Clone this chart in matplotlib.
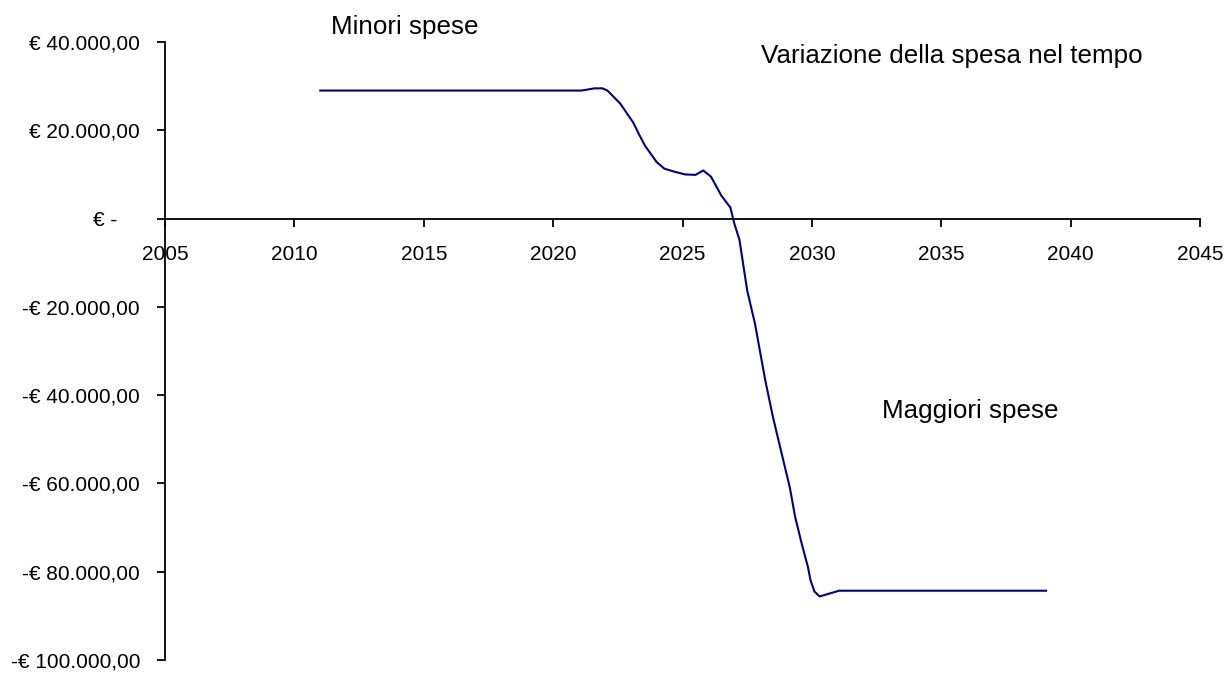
import matplotlib
matplotlib.use("Agg")
import matplotlib.pyplot as plt
from matplotlib.ticker import FixedLocator, FuncFormatter

plt.rcParams['font.family'] = ['Liberation Sans', 'DejaVu Sans']

# yearly spending difference (EUR)
years = [2011.0, 2021.1, 2021.4, 2021.6, 2021.9, 2022.1, 2022.6, 2023.1, 2023.3, 2023.55,
         2024.0, 2024.3, 2024.7, 2025.1, 2025.5, 2025.8, 2026.1, 2026.5, 2026.85,
         2027.0, 2027.2, 2027.5, 2027.8, 2028.2, 2028.5, 2029.15, 2029.35, 2029.6,
         2029.85, 2029.95, 2030.1, 2030.3, 2031.05, 2039.05]
values = [29000, 29000, 29300, 29500, 29500, 29000, 26000, 21700, 19300, 16500,
          12800, 11300, 10600, 10000, 9900, 10900, 9500, 5200, 2500,
          -1100, -4800, -16300, -23800, -36700, -45100, -61000, -67500, -73500,
          -79000, -82000, -84500, -85600, -84300, -84300]

x_ticks = [2005, 2010, 2015, 2020, 2025, 2030, 2035, 2040, 2045]
y_ticks = [40000, 20000, 0, -20000, -40000, -60000, -80000, -100000]


def euro(v, pos=None):
    if v == 0:
        return '€ -    '
    s = '{:,.2f}'.format(abs(v)).replace(',', 'X').replace('.', ',').replace('X', '.')
    return ('-€ ' if v < 0 else '€ ') + s


fig = plt.figure(figsize=(12.28, 6.73), dpi=100)
ax = fig.add_axes([0.1344, 0.0193, 0.8428, 0.9183])

ax.plot(years, values, color='#000080', linewidth=1.5)

ax.set_xlim(2005, 2045)
ax.set_ylim(-100000, 40000)

ax.spines['top'].set_visible(False)
ax.spines['right'].set_visible(False)
ax.spines['bottom'].set_position(('data', 0))
ax.spines['left'].set_linewidth(1.3)
ax.spines['bottom'].set_linewidth(1.3)

ax.xaxis.set_major_locator(FixedLocator(x_ticks))
ax.yaxis.set_major_locator(FixedLocator(y_ticks))
ax.yaxis.set_major_formatter(FuncFormatter(euro))
ax.tick_params(axis='x', direction='out', length=6, width=1.3, pad=13, labelsize=15)
ax.tick_params(axis='y', direction='out', length=6, width=1.3, pad=12, labelsize=15)

ax.text(2011.4, 41900, 'Minori spese', fontsize=18.7, va='baseline', clip_on=False)
ax.text(2028.05, 35340, 'Variazione della spesa nel tempo', fontsize=18.7, va='baseline')
ax.text(2032.7, -45080, 'Maggiori spese', fontsize=18.7, va='baseline')

fig.savefig('out.png', dpi=100)
